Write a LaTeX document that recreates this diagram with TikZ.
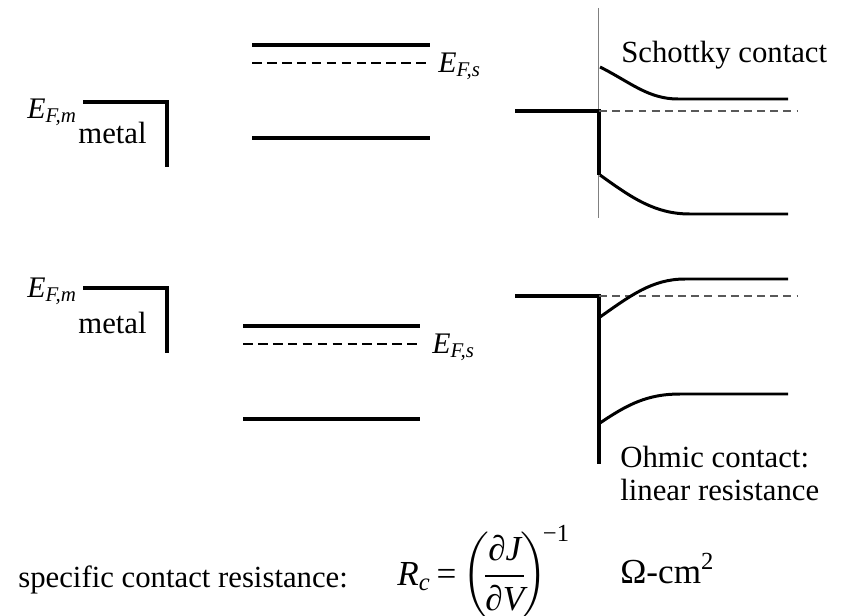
\documentclass[tikz,border=0pt]{standalone}
\usepackage{amsmath}
\usepackage{fontspec}
\setmainfont{Liberation Serif}
\usetikzlibrary{positioning}

\newcommand{\EFermi}[1]{\textit{E}\textsubscript{\textit{F,#1}}}

\tikzset{
  band/.style={line width=2pt},
  bandcurve/.style={line width=1.7pt},
  fermi/.style={line width=1.3pt,dash pattern=on 5.5pt off 3pt},
  fermithin/.style={line width=.9pt,gray!70!black,dash pattern=on 4.5pt off 3pt},
  txt/.style={font=\fontsize{17.5}{20}\selectfont,inner sep=0pt},
  bigtxt/.style={font=\fontsize{20}{23}\selectfont,inner sep=0pt},
  elbl/.style={font=\fontsize{17}{20}\selectfont,inner sep=0pt},
}

\begin{document}
\begin{tikzpicture}[x=0.02cm,y=-0.02cm]
\path[use as bounding box] (0,0) rectangle (854,615);

% top row: metal and semiconductor apart
\draw[band] (83,102) -- (167,102) -- (167,167);
\node[elbl,anchor=base west] (efm1) at (27,118) {\EFermi{m}};
\node[txt,anchor=base west] (metal1) at (78,143) {metal};
\draw[band] (252,45) -- (430,45);
\draw[fermi] (252,63) -- (430,63);
\draw[band] (252,138) -- (430,138);
\node[elbl,anchor=base west] (efs1) at (438,72) {\EFermi{s}};

% Schottky contact
\draw[line width=.5pt,gray] (598,8) -- (598,218);
\draw[band] (515,111) -- (599,111) -- (599,175);
\draw[fermithin] (599,111) -- (797,111);
\draw[bandcurve] (600,67) .. controls (630,82) and (648,99) .. (678,99) -- (788,99);
\draw[bandcurve] (600,175) .. controls (632,198) and (655,214) .. (690,214) -- (788,214);
\node[txt,anchor=base west] (schottky) at (621,63) {Schottky contact};

% bottom row
\draw[band] (83,288) -- (167,288) -- (167,353);
\node[elbl,anchor=base west] (efm2) at (27,297) {\EFermi{m}};
\node[txt,anchor=base west] (metal2) at (78,333) {metal};
\draw[band] (243,326) -- (420,326);
\draw[fermi] (243,344) -- (420,344);
\draw[band] (243,419) -- (420,419);
\node[elbl,anchor=base west] (efs2) at (432,353) {\EFermi{s}};

% ohmic contact
\draw[band] (515,296) -- (599,296) -- (599,464);
\draw[fermithin] (599,296) -- (797,296);
\draw[bandcurve] (600,317) .. controls (630,296) and (652,279) .. (685,279) -- (788,279);
\draw[bandcurve] (600,423) .. controls (628,404) and (648,394) .. (680,394) -- (788,394);
\node[txt,anchor=base west,align=left] (ohmic) at (620,500) {Ohmic contact:\\[-1.5pt] linear resistance};

% formula
\node[txt,anchor=base west] (rclabel) at (18,587) {specific contact resistance:};
\node[bigtxt,anchor=base west] (rcformula) at (397,585) {$\textit{R}_{\textit{c}}\,\text{=}\left(\!\dfrac{\text{∂}\textit{J}}{\text{∂}\textit{V}}\!\right)^{\!\text{−1}}$};
\node[bigtxt,anchor=base west] (rcunit) at (620,583) {Ω-cm\textsuperscript{2}};
\end{tikzpicture}
\end{document}
